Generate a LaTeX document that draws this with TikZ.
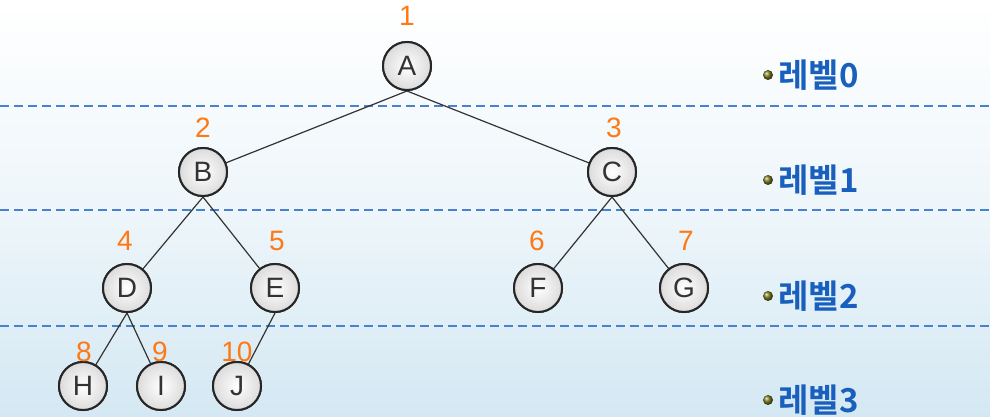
\documentclass[tikz,border=0pt]{standalone}
\usepackage{fontspec}
\setmainfont{Liberation Sans}
\newfontfamily\kr{Noto Sans CJK KR}[BoldFont={* Bold}]
\definecolor{dashblue}{RGB}{70,130,205}
\definecolor{lvlblue}{RGB}{25,95,190}
\definecolor{numorange}{RGB}{255,120,20}
\definecolor{bgblue}{RGB}{212,232,243}
\definecolor{bullet}{RGB}{120,120,30}
\tikzset{
  tnode/.style={circle,draw=black!85,line width=2pt,minimum size=48pt,inner sep=0pt,
    inner color=white,outer color=black!14,font=\fontsize{28}{28}\selectfont,text=black!80},
  num/.style={text=numorange,font=\fontsize{28}{28}\selectfont},
  lvl/.style={anchor=west,text=lvlblue,font=\kr\bfseries\fontsize{33}{33}\selectfont},
  sep/.style={dashblue,line width=1.6pt,dash pattern=on 9pt off 5pt},
  edge/.style={black!80,line width=1.2pt}
}
\begin{document}
\begin{tikzpicture}[x=1pt,y=-1pt]
\shade[top color=white,bottom color=bgblue,middle color=white!60!bgblue] (0,0) rectangle (990,417);
\useasboundingbox (0,0) rectangle (990,417);
% separators
\coordinate (s0a) at (0,106); \coordinate (s0b) at (990,106);
\coordinate (s1a) at (0,210); \coordinate (s1b) at (990,210);
\coordinate (s2a) at (0,326); \coordinate (s2b) at (990,326);
\draw[sep] (s0a) -- (s0b);
\draw[sep] (s1a) -- (s1b);
\draw[sep] (s2a) -- (s2b);
% node positions
\coordinate (pA) at (407,66);
\coordinate (pB) at (203,172);
\coordinate (pC) at (612,172);
\coordinate (pD) at (127,288);
\coordinate (pE) at (275,288);
\coordinate (pF) at (538,288);
\coordinate (pG) at (684,288);
\coordinate (pH) at (83,386);
\coordinate (pI) at (161,386);
\coordinate (pJ) at (237,386);
\foreach \n in {A,B,C,D,E,F,G,H,I,J}{\node[tnode] (\n) at (p\n) {\n};}
% edges
\draw[edge] (A.south) -- (pB);
\draw[edge] (A.south) -- (pC);
\draw[edge] (B.south) -- (pD);
\draw[edge] (B.south) -- (pE);
\draw[edge] (C.south) -- (pF);
\draw[edge] (C.south) -- (pG);
\draw[edge] (D.south) -- (pH);
\draw[edge] (D.south) -- (pI);
\draw[edge] (E.south) -- (pJ);
% nodes on top
\foreach \n in {A,B,C,D,E,F,G,H,I,J}{\node[tnode] at (p\n) {\n};}
% numbers
\node[num] (n1) at (407,16) {1};
\node[num] (n2) at (203,128) {2};
\node[num] (n3) at (614,128) {3};
\node[num] (n4) at (125,241) {4};
\node[num] (n5) at (277,241) {5};
\node[num] (n6) at (537,241) {6};
\node[num] (n7) at (686,241) {7};
\node[num] (n8) at (84,352) {8};
\node[num] (n9) at (160,352) {9};
\node[num] (n10) at (237,352) {10};
% levels
\foreach \y/\t in {75/0,180/1,296/2,400/3}{
  \shade[ball color=bullet] (768,\y) circle (5pt);
  \node[lvl] at (775,\y) {레벨\t};
}
\end{tikzpicture}
\end{document}
